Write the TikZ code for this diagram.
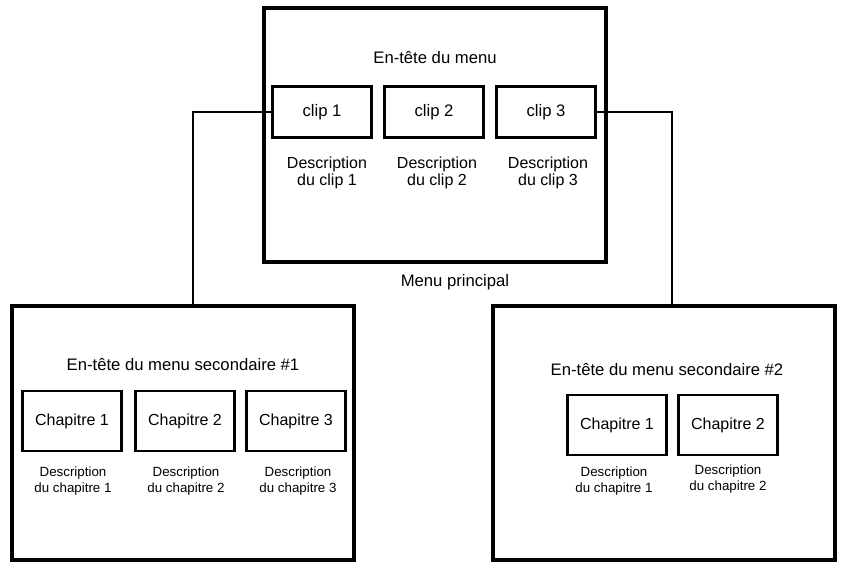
\documentclass[tikz,border=0pt]{standalone}
\usepackage{fontspec}
\setmainfont{Liberation Sans}
\begin{document}
\begin{tikzpicture}[x=0.75pt, y=-0.75pt,
    menu/.style={draw, line width=3pt, minimum width=257pt, minimum height=190pt, inner sep=0pt},
    clip/.style={draw, line width=2pt, minimum width=74pt, minimum height=38pt, font=\fontsize{12.5}{14}\selectfont},
    chap/.style={draw, line width=2pt, minimum width=74pt, minimum height=45pt, font=\fontsize{12}{14}\selectfont},
    desc/.style={align=center, font=\fontsize{12}{13}\selectfont},
    sdesc/.style={align=center, font=\fontsize{10}{11.5}\selectfont},
    head/.style={font=\fontsize{12.5}{14}\selectfont}]
    \useasboundingbox (0,0) rectangle (842,567);

    % Menu principal
    \node[menu] (main) at (435,135) {};
    \node[head] (mainhead) at (435,58) {En-tête du menu};
    \node[clip] (c1) at (322,112) {clip 1};
    \node[clip] (c2) at (434,112) {clip 2};
    \node[clip] (c3) at (546,112) {clip 3};
    \node[desc] (d1) at (327,173) {Description\\du clip 1};
    \node[desc] (d2) at (437,173) {Description\\du clip 2};
    \node[desc] (d3) at (548,173) {Description\\du clip 3};
    \node[head] (mainlbl) at (455,282) {Menu principal};

    % Menus secondaires
    \node[menu] (sub1) at (183,433) {};
    \node[menu] (sub2) at (664,433) {};
    \node[head] (h1) at (183,365) {En-tête du menu secondaire \#1};
    \node[head] (h2) at (667,370) {En-tête du menu secondaire \#2};

    \node[chap] (a1) at (72,421) {Chapitre 1};
    \node[chap] (a2) at (185,421) {Chapitre 2};
    \node[chap] (a3) at (296,421) {Chapitre 3};
    \node[sdesc] (e1) at (73,481) {Description\\du chapitre 1};
    \node[sdesc] (e2) at (186,481) {Description\\du chapitre 2};
    \node[sdesc] (e3) at (298,481) {Description\\du chapitre 3};

    \node[chap] (b1) at (617,425) {Chapitre 1};
    \node[chap] (b2) at (728,425) {Chapitre 2};
    \node[sdesc] (f1) at (614,481) {Description\\du chapitre 1};
    \node[sdesc] (f2) at (728,479) {Description\\du chapitre 2};

    % Liaisons
    \draw[line width=1.5pt] (c1.west) -| (sub1.north -| 193,0);
    \draw[line width=1.5pt] (c3.east) -| (sub2.north -| 672,0);
\end{tikzpicture}
\end{document}
